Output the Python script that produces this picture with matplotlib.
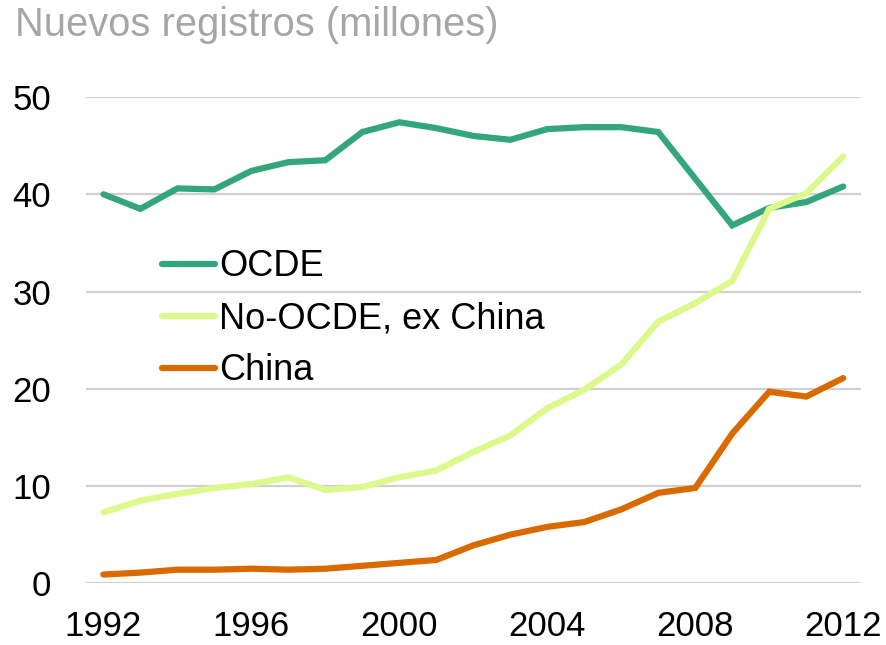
import numpy as np
import matplotlib
matplotlib.use('Agg')
import matplotlib.pyplot as plt

# data
years = list(range(1992, 2013))
ocde = [40.0, 38.5, 40.6, 40.5, 42.4, 43.3, 43.5, 46.4, 47.4, 46.8, 46.0,
        45.6, 46.7, 46.9, 46.9, 46.4, 41.6, 36.8, 38.6, 39.2, 40.8]
no_ocde = [7.3, 8.5, 9.2, 9.8, 10.2, 10.9, 9.6, 9.9, 10.9, 11.6, 13.5,
           15.2, 18.0, 19.9, 22.5, 26.9, 28.8, 31.1, 38.5, 40.1, 43.9]
china = [0.9, 1.1, 1.4, 1.4, 1.5, 1.4, 1.5, 1.8, 2.1, 2.4, 3.9,
         5.0, 5.8, 6.3, 7.6, 9.3, 9.8, 15.4, 19.7, 19.2, 21.1]
series_names = ['OCDE', 'No-OCDE, ex China', 'China']
colors = ['#34a67b', '#dcf98c', '#d96a00']
yticks = [0, 10, 20, 30, 40, 50]
xticks = [1992, 1996, 2000, 2004, 2008, 2012]

plt.rcParams['font.family'] = ['Liberation Sans', 'DejaVu Sans']

fig = plt.figure(figsize=(8.86, 6.45), dpi=100)
ax = fig.add_axes([86 / 886, 61.7 / 645, 775 / 886, 486.3 / 645])

for vals, name, c in zip([ocde, no_ocde, china], series_names, colors):
    ax.plot(years, vals, color=c, lw=4.5, label=name, clip_on=False,
            solid_capstyle='round', solid_joinstyle='miter')

ax.set_xlim(1991.53, 2012.48)
ax.set_ylim(0, 50)
ax.set_yticks(yticks)
ax.set_xticks(xticks)
ax.grid(axis='y', color='#d0d0d0', lw=1.6)
ax.set_axisbelow(True)
for s in ax.spines.values():
    s.set_visible(False)
ax.tick_params(length=0, labelsize=25)
ax.tick_params(axis='y', pad=25)
ax.tick_params(axis='x', pad=19.5)

fig.text(15 / 886, 1 - 6 / 645, 'Nuevos registros (millones)', ha='left', va='top',
         fontsize=28.7, color='#a6a6a6')

leg = ax.legend(loc='upper left', bbox_to_anchor=(0.075, 0.724), frameon=False,
                prop={'size': 26}, handlelength=1.45,
                handletextpad=0.12, labelspacing=0.47, borderpad=0)
for h in leg.get_lines():
    h.set_linewidth(4.5)

fig.savefig('out.png', dpi=100)
